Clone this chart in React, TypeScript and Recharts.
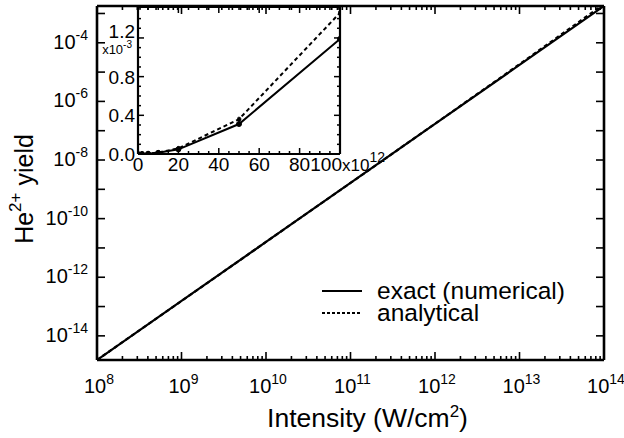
import React from 'react';
import { LineChart, Line, XAxis, YAxis, Legend } from 'recharts';

const FONT = '"Liberation Sans", Arial, Helvetica, sans-serif';

// ---------- main plot data (log-log) ----------
const intensity = [1e8, 1e9, 1e10, 1e11, 1e12, 1e13, 1e14];
const exactYield = [1.5e-15, 1.55e-13, 1.6e-11, 1.65e-9, 1.7e-7, 1.75e-5, 1.8e-3];
const analyticalYield = [1.5e-15, 1.55e-13, 1.6e-11, 1.65e-9, 1.72e-7, 1.85e-5, 2.1e-3];

const xDecades = [1e8, 1e9, 1e10, 1e11, 1e12, 1e13, 1e14];
const xMinorMultipliers = [2, 3, 4, 5, 6, 7, 8, 9];
const yDecades = [1e-14, 1e-13, 1e-12, 1e-11, 1e-10, 1e-9, 1e-8, 1e-7, 1e-6, 1e-5, 1e-4, 1e-3];
const yLabelExponents = [-4, -6, -8, -10, -12, -14];

// ---------- inset data (linear) ----------
const insetIntensity = [0, 2, 5, 10, 20, 50, 100]; // x10^12
const insetExact = [0, 0.0005, 0.003, 0.012, 0.048, 0.31, 1.19]; // x10^-3
const insetAnalytical = [0, 0.0006, 0.0037, 0.015, 0.058, 0.36, 1.46]; // x10^-3
const insetXMajor = [0, 20, 40, 60, 80, 100];
const insetYMajor = [0, 0.4, 0.8, 1.2];
const insetYLabels = ['0.0', '0.4', '0.8', '1.2'];

const mainData = intensity.map((x, i) => ({ x, exact: exactYield[i], analytical: analyticalYield[i] }));
const insetData = insetIntensity.map((x, i) => ({ x, exact: insetExact[i], analytical: insetAnalytical[i] }));

const xAllTicks = [
  ...xDecades,
  ...xDecades.slice(0, -1).flatMap((d) => xMinorMultipliers.map((m) => m * d)),
].sort((a, b) => a - b);

const insetXTicks = Array.from({ length: 21 }, (_, i) => i * 5);
const insetYTicks = Array.from({ length: 16 }, (_, i) => i / 10);

const isDecade = (v: number) => {
  const e = Math.round(Math.log10(v));
  return Math.abs(v - Math.pow(10, e)) < 1e-6 * v;
};
const near = (arr: number[], v: number) => arr.findIndex((a) => Math.abs(a - v) < 1e-9);

const axisStyle = { stroke: '#000', strokeWidth: 2.6 };
const insetAxisStyle = { stroke: '#000', strokeWidth: 2.2 };

// ---------- main ticks ----------
const BottomTick = (p: any) => {
  const { x, y, payload } = p;
  const v = payload.value;
  const major = isDecade(v);
  const e = Math.round(Math.log10(v));
  return (
    <g>
      <line x1={x} y1={y} x2={x} y2={y - (major ? 8 : 4)} stroke="#000" strokeWidth={1.6} />
      {major && (
        <text x={x + 2} y={y + 33} textAnchor="middle" fontSize={20} fontFamily={FONT} fill="#000">
          10<tspan dy={-9} fontSize={14}>{e}</tspan>
        </text>
      )}
    </g>
  );
};

const TopTick = (p: any) => {
  const { x, y, payload } = p;
  const major = isDecade(payload.value);
  return <line x1={x} y1={y} x2={x} y2={y + (major ? 8 : 4)} stroke="#000" strokeWidth={1.6} />;
};

const LeftTick = (p: any) => {
  const { x, y, payload } = p;
  const e = Math.round(Math.log10(payload.value));
  const labeled = yLabelExponents.includes(e);
  return (
    <g>
      <line x1={x} y1={y} x2={x + 8} y2={y} stroke="#000" strokeWidth={1.6} />
      {labeled && (
        <text x={x - 9} y={y + 6} textAnchor="end" fontSize={20} fontFamily={FONT} fill="#000">
          10<tspan dy={-9} fontSize={14}>{`${e}`}</tspan>
        </text>
      )}
    </g>
  );
};

const RightTick = (p: any) => {
  const { x, y } = p;
  return <line x1={x} y1={y} x2={x - 8} y2={y} stroke="#000" strokeWidth={1.6} />;
};

// ---------- inset ticks ----------
const InsetBottomTick = (p: any) => {
  const { x, y, payload } = p;
  const v = payload.value;
  const major = near(insetXMajor, v) >= 0;
  let label: any = null;
  if (major && v !== 100) {
    label = (
      <text x={x} y={y + 17} textAnchor="middle" fontSize={19} fontFamily={FONT} fill="#000">
        {v}
      </text>
    );
  } else if (v === 100) {
    label = (
      <g>
        <text x={x + 2} y={y + 17} textAnchor="end" fontSize={19} fontFamily={FONT} fill="#000">
          {v}
        </text>
        <text x={x + 2} y={y + 17} textAnchor="start" fontSize={17} fontFamily={FONT} fill="#000">
          x10<tspan dy={-9} fontSize={14}>12</tspan>
        </text>
      </g>
    );
  }
  return (
    <g>
      <line x1={x} y1={y} x2={x} y2={y - (major ? 6 : 3)} stroke="#000" strokeWidth={1.5} />
      {label}
    </g>
  );
};

const InsetTopTick = (p: any) => {
  const { x, y, payload } = p;
  const major = near(insetXMajor, payload.value) >= 0;
  return <line x1={x} y1={y} x2={x} y2={y + (major ? 6 : 3)} stroke="#000" strokeWidth={1.5} />;
};

const InsetLeftTick = (p: any) => {
  const { x, y, payload } = p;
  const v = payload.value;
  const idx = near(insetYMajor, v);
  const major = idx >= 0;
  let label: any = null;
  if (major && idx !== 3) {
    label = (
      <text x={x - 3} y={y + 7} textAnchor="end" fontSize={19} fontFamily={FONT} fill="#000">
        {insetYLabels[idx]}
      </text>
    );
  } else if (major) {
    label = (
      <g>
        <text x={x - 3} y={y} textAnchor="end" fontSize={19} fontFamily={FONT} fill="#000">
          {insetYLabels[idx]}
        </text>
        <text x={x - 6} y={y + 16} textAnchor="end" fontSize={13} fontFamily={FONT} fill="#000">
          x10<tspan dy={-6} fontSize={10}>-3</tspan>
        </text>
      </g>
    );
  }
  return (
    <g>
      <line x1={x} y1={y} x2={x + (major ? 6 : 3)} y2={y} stroke="#000" strokeWidth={1.5} />
      {label}
    </g>
  );
};

const InsetRightTick = (p: any) => {
  const { x, y, payload } = p;
  const major = near(insetYMajor, payload.value) >= 0;
  return <line x1={x} y1={y} x2={x - (major ? 6 : 3)} y2={y} stroke="#000" strokeWidth={1.5} />;
};

// ---------- titles ----------
const XTitle = (props: any) => {
  const vb = props.viewBox || { x: 97, y: 360, width: 507 };
  const cx = vb.x + vb.width / 2 + 17;
  return (
    <text x={cx} y={vb.y + 67} textAnchor="middle" fontSize={26.5} fontFamily={FONT} fill="#000">
      Intensity (W/cm<tspan dy={-10} fontSize={17}>2</tspan>
      <tspan dy={10}>)</tspan>
    </text>
  );
};

const YTitle = (props: any) => {
  const vb = props.viewBox || { x: 0, y: 6, width: 97, height: 354 };
  const cx = vb.x + 33;
  const cy = vb.y + vb.height / 2 + 6;
  return (
    <text
      x={cx}
      y={cy}
      transform={`rotate(-90 ${cx} ${cy})`}
      textAnchor="middle"
      fontSize={25}
      fontFamily={FONT}
      fill="#000"
    >
      He<tspan dy={-12} fontSize={17}>2+</tspan>
      <tspan dy={12}>{' yield'}</tspan>
    </text>
  );
};

const LegendContent = () => (
  <div style={{ fontFamily: FONT, fontSize: 24.5, color: '#000', lineHeight: '22px' }}>
    <div style={{ display: 'flex', alignItems: 'center', height: 22 }}>
      <svg width={44} height={10}>
        <line x1={2} x2={42} y1={5} y2={5} stroke="#000" strokeWidth={2.2} />
      </svg>
      <span style={{ marginLeft: 13 }}>exact (numerical)</span>
    </div>
    <div style={{ display: 'flex', alignItems: 'center', height: 22 }}>
      <svg width={44} height={10}>
        <line x1={2} x2={42} y1={5} y2={5} stroke="#000" strokeWidth={2.2} strokeDasharray="3 2" />
      </svg>
      <span style={{ marginLeft: 13 }}>analytical</span>
    </div>
  </div>
);

export default function App() {
  return (
    <div style={{ position: 'absolute', left: 0, top: 0, width: 624, height: 438, background: '#fff' }}>
      <div style={{ position: 'absolute', left: 0, top: 0 }}>
        <LineChart width={624} height={438} data={mainData} margin={{ top: 5, right: 19, bottom: 0, left: 0 }}>
          <XAxis
            xAxisId="b"
            dataKey="x"
            type="number"
            scale="log"
            domain={[1e8, 1e14]}
            allowDataOverflow
            ticks={xAllTicks}
            interval={0}
            tickSize={0}
            tickMargin={0}
            tickLine={false}
            tick={(p: any) => <BottomTick {...p} />}
            axisLine={axisStyle}
            height={78}
            label={XTitle}
          />
          <XAxis
            xAxisId="t"
            orientation="top"
            dataKey="x"
            type="number"
            scale="log"
            domain={[1e8, 1e14]}
            allowDataOverflow
            ticks={xAllTicks}
            interval={0}
            tickSize={0}
            tickMargin={0}
            tickLine={false}
            tick={(p: any) => <TopTick {...p} />}
            axisLine={axisStyle}
            height={1}
          />
          <YAxis
            yAxisId="l"
            type="number"
            scale="log"
            domain={[1.5e-15, 1.8e-3]}
            allowDataOverflow
            ticks={yDecades}
            interval={0}
            tickSize={0}
            tickMargin={0}
            tickLine={false}
            tick={(p: any) => <LeftTick {...p} />}
            axisLine={axisStyle}
            width={97}
            label={YTitle}
          />
          <YAxis
            yAxisId="r"
            orientation="right"
            type="number"
            scale="log"
            domain={[1.5e-15, 1.8e-3]}
            allowDataOverflow
            ticks={yDecades}
            interval={0}
            tickSize={0}
            tickMargin={0}
            tickLine={false}
            tick={(p: any) => <RightTick {...p} />}
            axisLine={axisStyle}
            width={1}
          />
          <Line
            xAxisId="t"
            yAxisId="r"
            dataKey="exact"
            type="linear"
            stroke="none"
            dot={false}
            legendType="none"
            isAnimationActive={false}
          />
          <Line
            xAxisId="b"
            yAxisId="l"
            dataKey="exact"
            type="linear"
            stroke="#000"
            strokeWidth={2.2}
            dot={false}
            isAnimationActive={false}
          />
          <Line
            xAxisId="b"
            yAxisId="l"
            dataKey="analytical"
            type="linear"
            stroke="#000"
            strokeWidth={2.2}
            strokeDasharray="4 3"
            dot={false}
            isAnimationActive={false}
          />
          <Legend
            layout="horizontal"
            verticalAlign="middle"
            align="center"
            wrapperStyle={{ left: 320, top: 280, width: 290, height: 46 }}
            content={LegendContent}
          />
        </LineChart>
      </div>
      <div style={{ position: 'absolute', left: 100, top: 0 }}>
        <LineChart width={300} height={180} data={insetData} margin={{ top: 6, right: 59, bottom: 0, left: 0 }}>
          <XAxis
            xAxisId="b"
            dataKey="x"
            type="number"
            domain={[0, 100]}
            allowDataOverflow
            ticks={insetXTicks}
            interval={0}
            tickSize={0}
            tickMargin={0}
            tickLine={false}
            tick={(p: any) => <InsetBottomTick {...p} />}
            axisLine={insetAxisStyle}
            height={26}
          />
          <XAxis
            xAxisId="t"
            orientation="top"
            dataKey="x"
            type="number"
            domain={[0, 100]}
            allowDataOverflow
            ticks={insetXTicks}
            interval={0}
            tickSize={0}
            tickMargin={0}
            tickLine={false}
            tick={(p: any) => <InsetTopTick {...p} />}
            axisLine={insetAxisStyle}
            height={1}
          />
          <YAxis
            yAxisId="l"
            type="number"
            domain={[0, 1.52]}
            allowDataOverflow
            ticks={insetYTicks}
            interval={0}
            tickSize={0}
            tickMargin={0}
            tickLine={false}
            tick={(p: any) => <InsetLeftTick {...p} />}
            axisLine={insetAxisStyle}
            width={38}
          />
          <YAxis
            yAxisId="r"
            orientation="right"
            type="number"
            domain={[0, 1.52]}
            allowDataOverflow
            ticks={insetYTicks}
            interval={0}
            tickSize={0}
            tickMargin={0}
            tickLine={false}
            tick={(p: any) => <InsetRightTick {...p} />}
            axisLine={insetAxisStyle}
            width={1}
          />
          <Line
            xAxisId="t"
            yAxisId="r"
            dataKey="exact"
            type="linear"
            stroke="none"
            dot={false}
            isAnimationActive={false}
          />
          <Line
            xAxisId="b"
            yAxisId="l"
            dataKey="exact"
            type="linear"
            stroke="#000"
            strokeWidth={2}
            dot={{ r: 2.5, fill: '#000', stroke: '#000', strokeWidth: 1 }}
            isAnimationActive={false}
          />
          <Line
            xAxisId="b"
            yAxisId="l"
            dataKey="analytical"
            type="linear"
            stroke="#000"
            strokeWidth={2}
            strokeDasharray="4 3"
            dot={{ r: 2, fill: '#000', stroke: '#000', strokeWidth: 1 }}
            isAnimationActive={false}
          />
        </LineChart>
      </div>
    </div>
  );
}
